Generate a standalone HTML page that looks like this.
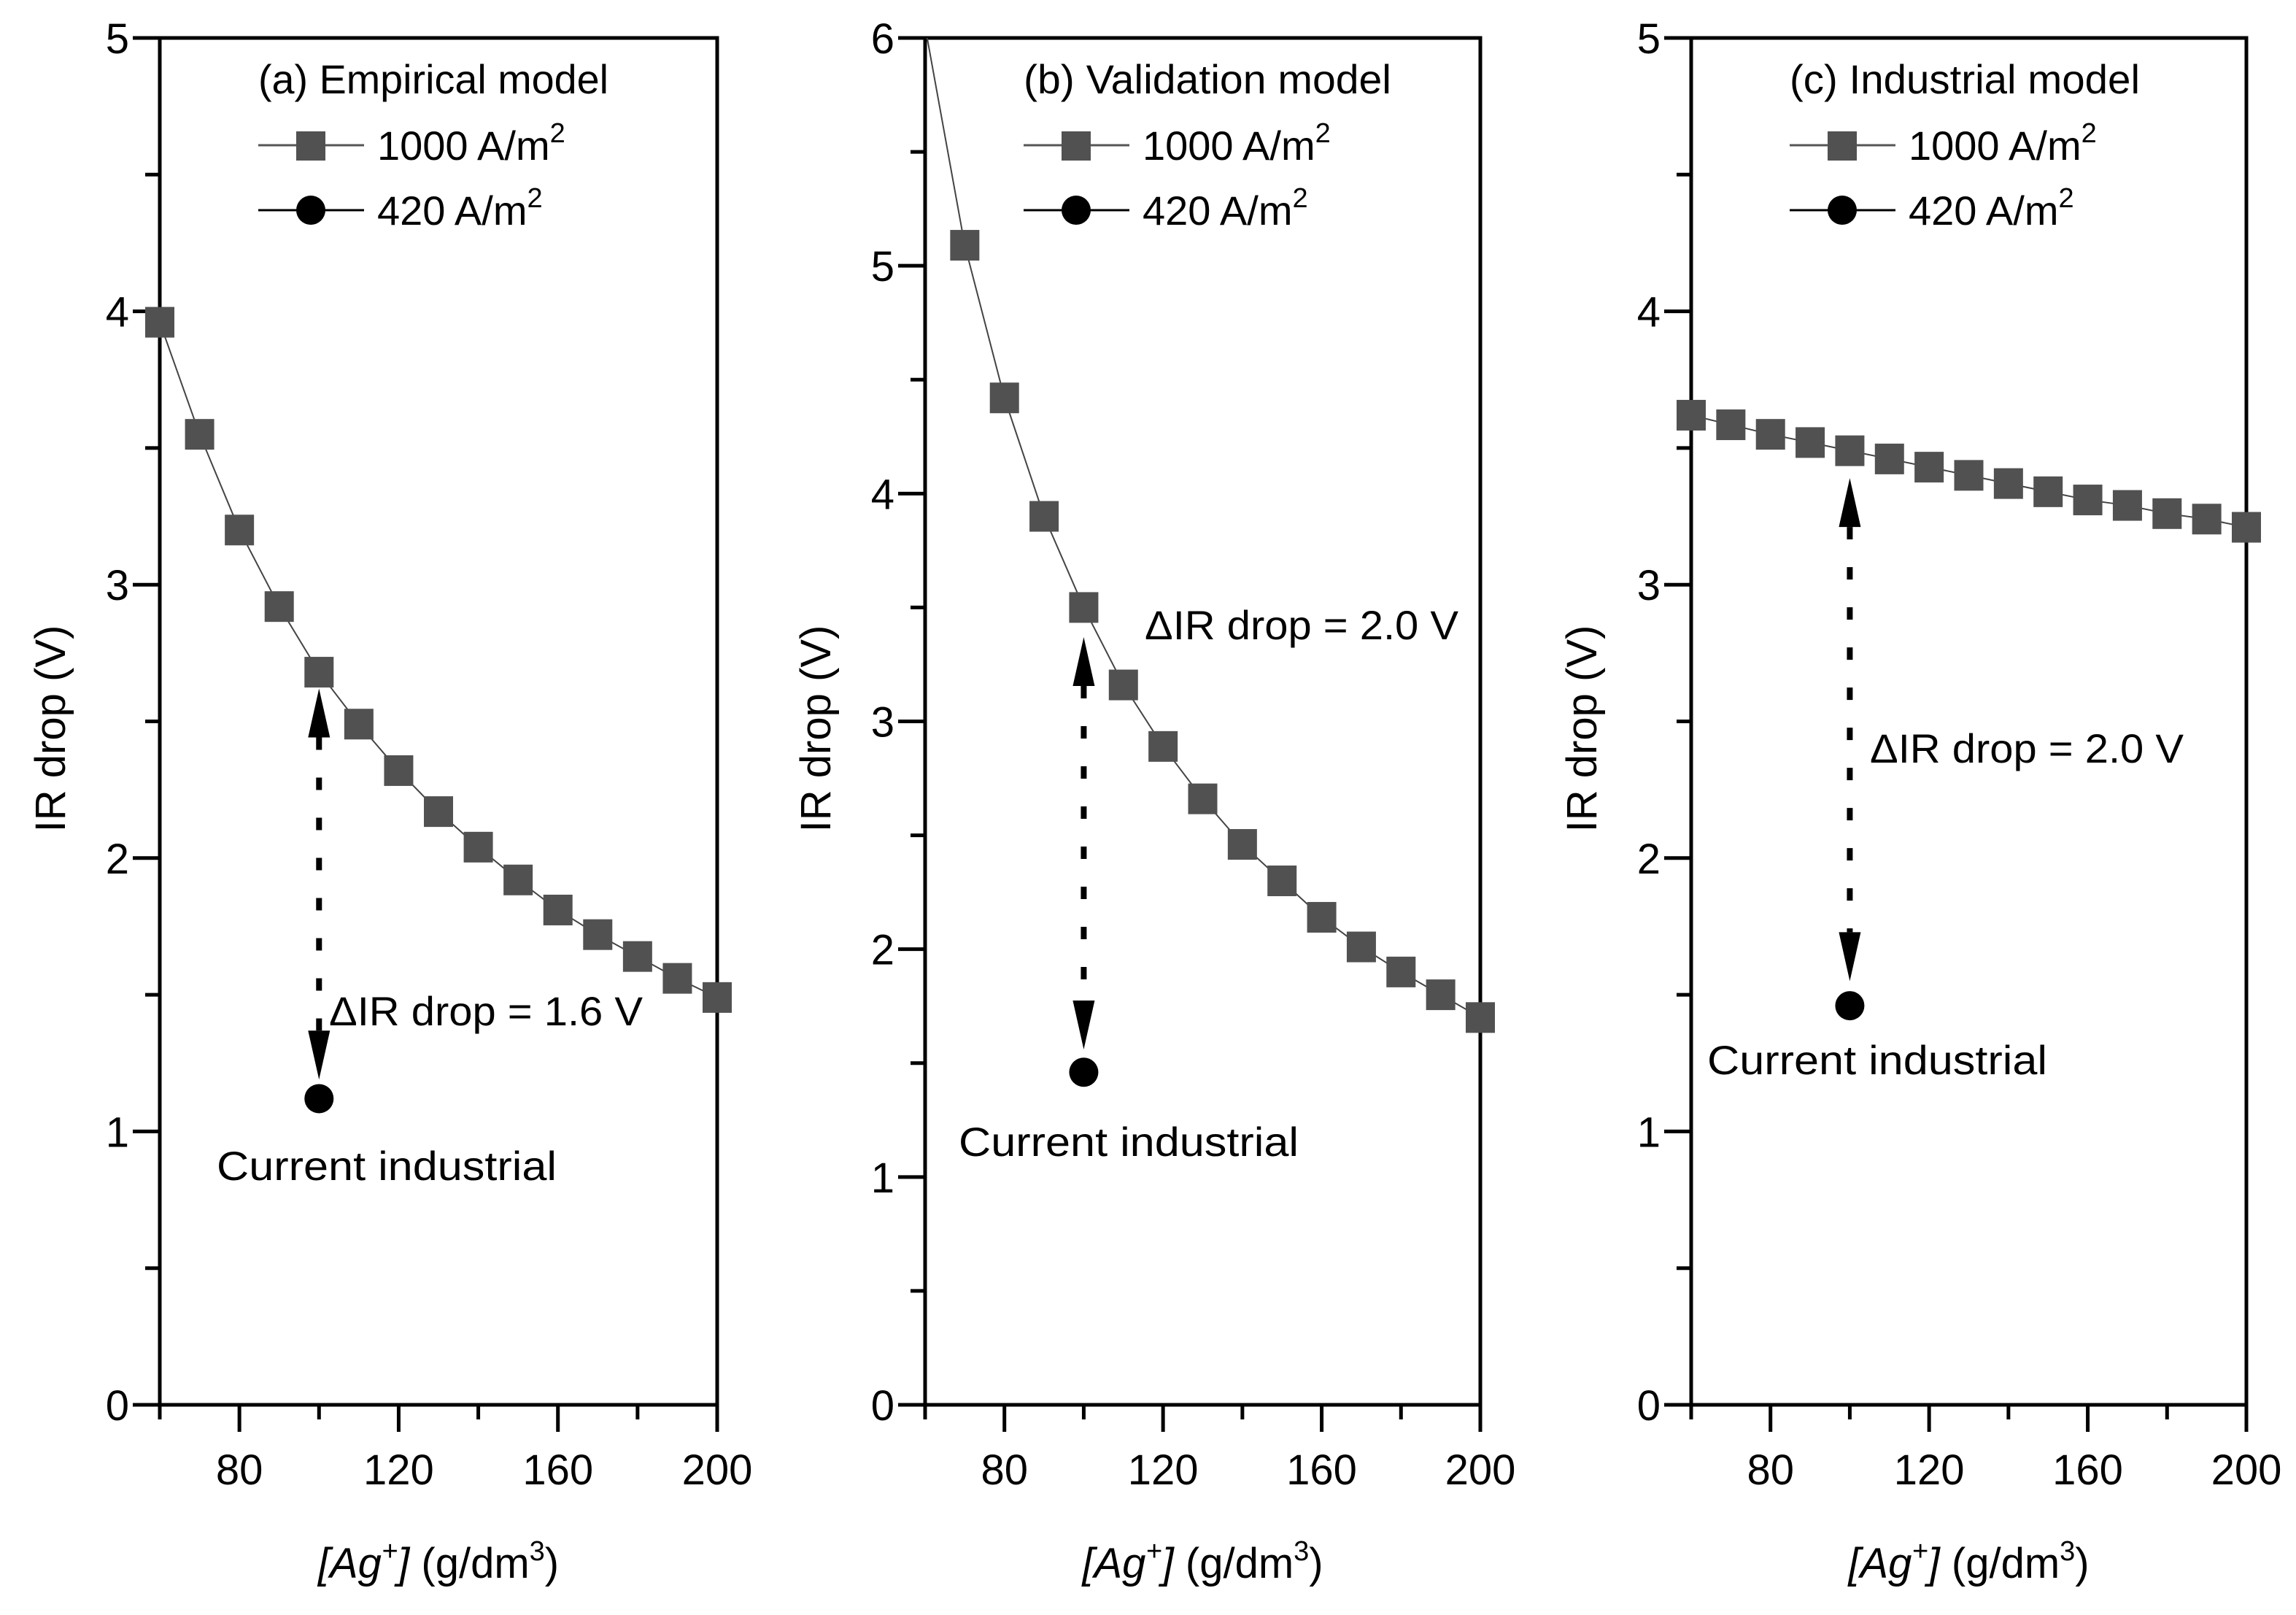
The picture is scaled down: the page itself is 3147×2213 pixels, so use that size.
<!DOCTYPE html>
<html><head><meta charset="utf-8"><style>
html,body{margin:0;padding:0;background:#fff;}
svg{display:block;font-family:"Liberation Sans",sans-serif;}
</style></head><body>
<svg id="chart" width="3147" height="2213" viewBox="0 0 3147 2213" xmlns="http://www.w3.org/2000/svg"></svg>
<script>
const xCategories = [60,70,80,90,100,110,120,130,140,150,160,170,180,190,200];
const empirical1000 = [3.96,3.55,3.20,2.92,2.68,2.49,2.32,2.17,2.04,1.92,1.81,1.72,1.64,1.56,1.49];
const validation1000 = [6.05,5.09,4.42,3.90,3.50,3.16,2.89,2.66,2.46,2.30,2.14,2.01,1.90,1.80,1.70];
const industrial1000 = [3.62,3.585,3.55,3.52,3.49,3.46,3.43,3.40,3.37,3.34,3.31,3.29,3.26,3.24,3.21];
const current420X = [100];
const empirical420 = [1.12];
const validation420 = [1.46];
const industrial420 = [1.46];
const xTickLabels = [80,120,160,200];
const yTicksA = [0,1,2,3,4,5];
const yTicksB = [0,1,2,3,4,5,6];
const yTicksC = [0,1,2,3,4,5];
const deltaLabels = ["\u0394IR drop = 1.6 V","\u0394IR drop = 2.0 V","\u0394IR drop = 2.0 V"];
const titles = ["(a) Empirical model","(b) Validation model","(c) Industrial model"];

const NS="http://www.w3.org/2000/svg";
const svg=document.getElementById('chart');
function mk(tag,attrs,parent){const e=document.createElementNS(NS,tag);for(const k in attrs)e.setAttribute(k,attrs[k]);(parent||svg).appendChild(e);return e;}

const panels=[
 {key:'a',x0:219,x1:983,ymax:5,yt:yTicksA,s:empirical1000,c:empirical420,markFrom:0,
  arrow:[2.62,1.19],dl:[451,1405],ci:[297,1617]},
 {key:'b',x0:1268,x1:2029,ymax:6,yt:yTicksB,s:validation1000,c:validation420,markFrom:1,
  arrow:[3.37,1.56],dl:[1569,876],ci:[1314,1584]},
 {key:'c',x0:2318,x1:3079,ymax:5,yt:yTicksC,s:industrial1000,c:industrial420,markFrom:0,
  arrow:[3.39,1.55],dl:[2563,1045],ci:[2340,1472]}
];
const Y0=1925,Y1=52;

panels.forEach((p,pi)=>{
 const g=mk('g',{});
 
 
 const xs=v=>p.x0+(v-60)/(200-60)*(p.x1-p.x0);
 const ys=v=>Y0-v/p.ymax*(Y0-Y1);
 const cx=(p.x0+p.x1)/2;
 const cp=mk('clipPath',{id:'clip'+p.key},g);
 mk('rect',{x:p.x0,y:Y1,width:p.x1-p.x0,height:Y0-Y1},cp);
 const fr=mk('rect',{x:p.x0,y:Y1,width:p.x1-p.x0,height:Y0-Y1,fill:'none',stroke:'#000','stroke-width':5},g);
 
 
 for(let v=0;v<=p.ymax;v+=0.5){
  const maj=Number.isInteger(v);
  mk('line',{x1:p.x0-(maj?37:20),x2:p.x0,y1:ys(v),y2:ys(v),stroke:'#000','stroke-width':5},g);
 }
 p.yt.forEach(v=>{
  const t=mk('text',{x:p.x0-42,y:ys(v)+21,'text-anchor':'end','font-size':58},g);
  t.textContent=v;
  
  
 });
 for(let v=60;v<=200;v+=20){
  const maj=(v%40===0);
  mk('line',{x1:xs(v),x2:xs(v),y1:Y0,y2:Y0+(maj?37:20),stroke:'#000','stroke-width':5},g);
 }
 xTickLabels.forEach(v=>{
  const t=mk('text',{x:xs(v),y:2034,'text-anchor':'middle','font-size':58},g);
  t.textContent=v;
  
  
 });
 const yt=mk('text',{x:0,y:0,'text-anchor':'middle','font-size':58,transform:`translate(${p.x0-130},${(Y0+Y1)/2+10}) rotate(-90)`},g);
 yt.textContent='IR drop (V)';
 
 
 const xt=mk('text',{x:cx,y:2162,'text-anchor':'middle','font-size':58},g);
 xt.innerHTML='<tspan font-style="italic">[Ag<tspan dy="-24" font-size="38">+</tspan><tspan dy="24">]</tspan></tspan> (g/dm<tspan dy="-24" font-size="38">3</tspan><tspan dy="24">)</tspan>';
 
 
 const pl=mk('polyline',{points:xCategories.map((x,i)=>xs(x)+','+ys(p.s[i])).join(' '),fill:'none',stroke:'#444','stroke-width':2,'clip-path':`url(#clip${p.key})`},g);
 
 
 xCategories.forEach((x,i)=>{
  if(i<p.markFrom)return;
  const r=mk('rect',{x:xs(x)-20,y:ys(p.s[i])-21,width:40,height:42,fill:'#515151'},g);
  
  
 });
 current420X.forEach((x,i)=>{
  const c=mk('circle',{cx:xs(x),cy:ys(p.c[i]),r:20,fill:'#000'},g);
  
  
 });
 const ax=xs(100), ay1=ys(p.arrow[0]), ay2=ys(p.arrow[1]);
 const al=mk('line',{x1:ax,x2:ax,y1:ay1+67,y2:ay2-67,stroke:'#000','stroke-width':8,'stroke-dasharray':'17 38'},g);
 
 
 mk('polygon',{points:`${ax},${ay1} ${ax-15},${ay1+67} ${ax+15},${ay1+67}`,fill:'#000'},g);
 mk('polygon',{points:`${ax},${ay2} ${ax-15},${ay2-67} ${ax+15},${ay2-67}`,fill:'#000'},g);
 const dl=mk('text',{x:p.dl[0],y:p.dl[1],'font-size':56,textLength:430,lengthAdjust:'spacingAndGlyphs'},g);
 dl.textContent=deltaLabels[pi];
 
 
 const ci=mk('text',{x:p.ci[0],y:p.ci[1],'font-size':56,textLength:466,lengthAdjust:'spacingAndGlyphs'},g);
 ci.textContent='Current industrial';
 
 
 const lx=p.x0+135;
 const lg=mk('g',{},g);
 
 
 const tt=mk('text',{x:lx,y:128,'font-size':56,textLength:[480,504,480][pi],lengthAdjust:'spacingAndGlyphs'},lg);
 tt.textContent=titles[pi];
 
 
 mk('line',{x1:lx,x2:lx+145,y1:199,y2:199,stroke:'#555','stroke-width':3},lg);
 mk('rect',{x:lx+52,y:180,width:40,height:40,fill:'#515151'},lg);
 const e1=mk('text',{x:lx+163,y:219,'font-size':56},lg);
 e1.innerHTML='1000 A/m<tspan dy="-24" font-size="38">2</tspan>';
 
 
 mk('line',{x1:lx,x2:lx+145,y1:288,y2:288,stroke:'#000','stroke-width':3},lg);
 mk('circle',{cx:lx+72,cy:288,r:20,fill:'#000'},lg);
 const e2=mk('text',{x:lx+163,y:308,'font-size':56},lg);
 e2.innerHTML='420 A/m<tspan dy="-24" font-size="38">2</tspan>';
 
 
});
</script>
</body></html>
